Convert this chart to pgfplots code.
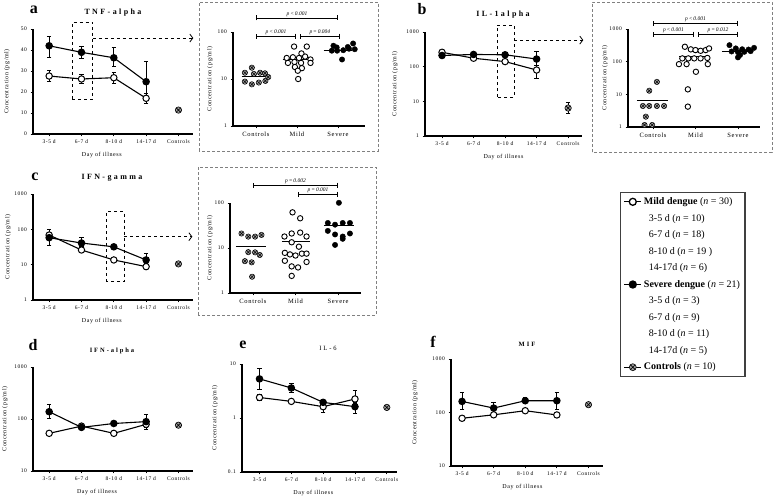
\documentclass[border=0pt]{standalone}
\usepackage{fontspec}
\setmainfont{Liberation Serif}
\newfontfamily\lsfont[LetterSpace=10]{Liberation Serif}
\newfontfamily\tlfont[LetterSpace=30]{Liberation Serif}
\usepackage{pgfplots}
\pgfplotsset{compat=1.18}
\usetikzlibrary{arrows.meta}
\tikzset{
 br/.style={{Bar[width=5pt]}-{Bar[width=5pt]}, line width=0.8pt},
 pv/.style={above, inner sep=1pt, font=\itshape\fontsize{5.5}{6}\selectfont},
 dbox/.style={dashed, line width=0.8pt},
 darr/.style={dashed, line width=0.8pt, -{Straight Barb[length=3pt,width=8pt]}},
}
\pgfplotsset{
 myprism/.style={scale only axis, axis x line*=bottom, axis y line*=left,
   axis line style={line width=1.1pt}, tick align=outside, major tick length=2.5pt,
   every tick/.style={black, line width=0.8pt}, clip=false,
   /pgf/number format/assume math mode=true, /pgf/number format/1000 sep={},
   tick label style={font=\lsfont\fontsize{5.5}{6}\selectfont},
   label style={font=\lsfont\fontsize{6}{7}\selectfont},
   yminorticks=false, xminorticks=false},
 mymain/.style={myprism, xmin=-0.5, xmax=4.45, xtick={0,...,4},
   xticklabels={3-5 d,6-7 d,8-10 d,14-17 d,Controls},
   xlabel={Day of illness}, ylabel={Concentration (pg/ml)}, width=160pt},
 myinset/.style={myprism, xtick={0,1,2}, xticklabels={Controls,Mild,Severe},
   ylabel={Concentration (pg/ml)},
   x tick label style={font=\lsfont\fontsize{6.5}{7}\selectfont}},
 yl/.style={ylabel style={at={(axis description cs:#1,0.5)}, anchor=center}},
 xl/.style={xlabel style={at={(axis description cs:#1,0)}, anchor=center, yshift=-21pt}},
 mysev/.style={black, line width=1.1pt, mark=*, mark size=3.2pt,
   error bars/y dir=both, error bars/y explicit,
   error bars/error bar style={line width=0.9pt, solid},
   error bars/error mark options={rotate=90, mark size=2.2pt, line width=0.9pt}},
 mymild/.style={mysev, mark options={fill=white, line width=1pt}},
 myctrl/.style={mysev, only marks, mark=otimes*, mark options={fill=gray!75, line width=0.6pt}},
 myisev/.style={only marks, mark=*, mark size=2.7pt, black},
 myimild/.style={only marks, mark=*, mark size=2.7pt, black, mark options={fill=white, line width=0.9pt}},
 myictrl/.style={only marks, mark=otimes*, mark size=2.7pt, black, mark options={fill=gray!75, line width=0.5pt}},
 mymean/.style={black, line width=0.8pt},
}
\begin{document}
\begin{tikzpicture}[x=1pt,y=1pt]
\path[use as bounding box] (0pt,0pt) rectangle (777pt,496pt);

% ---------------- Panel a main
\begin{axis}[mymain, at={(33pt,362pt)}, anchor=south west, height=105pt,
  ymin=0, ymax=50, ytick={0,10,...,50}, yl=-0.1625, xl=0.43]
\addplot[mymild] table[x=x,y=y,y error plus=ep,y error minus=em]{
x y ep em
0 27.6 2.5 2.7
1 26.2 2.2 2.1
2 26.8 2.5 2.5
3 17.0 2.4 2.4
};
\addplot[mysev] table[x=x,y=y,y error plus=ep,y error minus=em]{
x y ep em
0 42.0 4.3 5.5
1 38.9 3.0 2.9
2 36.3 4.8 4.3
3 24.9 9.5 8.9
};
\addplot[myctrl] table[x=x,y=y,y error plus=ep,y error minus=em]{
x y ep em
4 11.4 0.5 0.5
};
\draw[dbox] (axis cs:0.72,16.7) rectangle (axis cs:1.35,53.3);
\draw[darr] (axis cs:1.35,45.7) -- (axis cs:4.46,45.7);
\end{axis}

% ---------------- Panel a inset
\begin{axis}[myinset, ymode=log, log ticks with fixed point, at={(233pt,370pt)}, anchor=south west, width=132pt, height=94pt,
  xmin=-0.56, xmax=2.66, ymin=1, ymax=100, ytick={1,10,100}, yl=-0.174]
\addplot[myictrl] coordinates {(-0.1,17.4) (-0.27,13.6) (-0.05,12.8) (0.1,13.6) (0.22,13.2) (0.3,11) (-0.27,8.8) (-0.1,7.7) (0.07,8.4) (0.23,9.1)};
\addplot[myimild] coordinates {(0.93,49) (1.24,49) (1.11,35) (0.75,28) (0.9,29) (1.05,28) (1.2,30) (1.33,26) (0.78,22) (0.94,23) (1.1,22) (1.33,22) (0.95,18) (1.12,17) (1.02,15) (1.03,10)};
\addplot[myisev] coordinates {(1.89,51) (2.37,57) (2.27,44) (1.85,40) (1.98,40) (2.13,41) (2.41,43) (2.1,26) (2.24,48) (1.97,47)};
\addplot[mymean] coordinates {(-0.35,11.6) (0.35,11.6)};
\addplot[mymean] coordinates {(0.65,26.7) (1.35,26.7)};
\addplot[mymean] coordinates {(1.65,41) (2.35,41)};
\draw[br] (axis cs:0,199) -- (axis cs:2,199);
\node[pv] at (axis cs:1,199) {p\,<\,0.001};
\draw[br] (axis cs:0,82) -- (axis cs:0.97,82);
\node[pv] at (axis cs:0.49,82) {p\,<\,0.001};
\draw[br] (axis cs:1.07,82) -- (axis cs:2.05,82);
\node[pv] at (axis cs:1.56,82) {p\,=\,0.004};
\end{axis}

% ---------------- Panel b main
\begin{axis}[mymain, ymode=log, log ticks with fixed point, at={(425pt,360pt)}, anchor=south west, width=157pt, height=104pt,
  xmin=-0.54, xmax=4.44, ymin=1, ymax=1000, ytick={1,10,100,1000}, yl=-0.191, xl=0.5]
\addplot[mymild] table[x=x,y=y,y error plus=ep,y error minus=em]{
x y ep em
0 260 40 40
1 175 20 20
2 140 20 20
3 80 30 33
};
\addplot[mysev] table[x=x,y=y,y error plus=ep,y error minus=em]{
x y ep em
0 210 30 30
1 225 30 30
2 220 25 25
3 166 114 60
};
\addplot[myctrl] table[x=x,y=y,y error plus=ep,y error minus=em]{
x y ep em
4 6.4 2.6 1.8
};
\draw[dbox] (axis cs:1.75,13.3) rectangle (axis cs:2.29,1585);
\draw[darr] (axis cs:2.29,584) -- (axis cs:4.48,584);
\end{axis}

% ---------------- Panel b inset
\begin{axis}[myinset, ymode=log, log ticks with fixed point, at={(628pt,369pt)}, anchor=south west, width=132pt, height=98pt,
  xmin=-0.59, xmax=2.52, ymin=1, ymax=1000, ytick={1,10,100,1000}, yl=-0.174]
\addplot[myictrl] coordinates {(0.09,24) (-0.09,12.9) (-0.24,4.4) (-0.09,4.4) (0.09,4.4) (0.26,4.4) (-0.17,2.07) (-0.2,1.15) (-0.02,1.15)};
\addplot[myimild] coordinates {(0.75,286) (0.89,238) (1.0,226) (1.12,215) (1.24,226) (1.32,254) (0.69,126) (0.83,126) (0.97,126) (1.12,126) (1.28,130) (0.61,84) (0.79,84) (1.29,84) (1.01,49) (0.82,14.2) (0.82,4.2)};
\addplot[myisev] coordinates {(1.8,320) (1.95,255) (2.1,240) (2.25,235) (2.38,265) (1.85,205) (2.0,195) (2.15,200) (2.3,210) (2.05,160) (2.0,135)};
\addplot[mymean] coordinates {(-0.38,6.7) (0.35,6.7)};
\addplot[mymean] coordinates {(0.62,141) (1.35,141)};
\addplot[mymean] coordinates {(1.62,201) (2.36,201)};
\draw[br] (axis cs:0,1513) -- (axis cs:2,1513);
\node[pv] at (axis cs:1,1513) {p\,<\,0.001};
\draw[br] (axis cs:0,698) -- (axis cs:0.95,698);
\node[pv] at (axis cs:0.48,698) {p\,<\,0.001};
\draw[br] (axis cs:1.05,698) -- (axis cs:2,698);
\node[pv] at (axis cs:1.53,698) {p\,=\,0.012};
\end{axis}

% ---------------- Panel c main
\begin{axis}[mymain, ymode=log, log ticks with fixed point, at={(33pt,196pt)}, anchor=south west, height=106pt,
  ymin=1, ymax=1000, ytick={1,10,100,1000}, yl=-0.156, xl=0.43]
\addplot[mymild] table[x=x,y=y,y error plus=ep,y error minus=em]{
x y ep em
0 69 10 10
1 26 4 4
2 13.6 2 2
3 8.8 1.5 1.5
};
\addplot[mysev] table[x=x,y=y,y error plus=ep,y error minus=em]{
x y ep em
0 58 42 23
1 41 17 8
2 32 4 4
3 13.6 7 3
};
\addplot[myctrl] table[x=x,y=y,y error plus=ep,y error minus=em]{
x y ep em
4 10.5 1 1
};
\draw[dbox] (axis cs:1.76,3.3) rectangle (axis cs:2.32,316);
\draw[darr] (axis cs:2.32,62) -- (axis cs:4.43,62);
\end{axis}

% ---------------- Panel c inset
\begin{axis}[myinset, ymode=log, log ticks with fixed point, at={(230pt,203pt)}, anchor=south west, width=131pt, height=90pt,
  xmin=-0.54, xmax=2.54, ymin=1, ymax=100, ytick={1,10,100}, yl=-0.153]
\addplot[myictrl] coordinates {(-0.27,21) (-0.11,17.9) (0.05,17.9) (0.2,19.5) (-0.11,8.1) (0.05,8) (0.16,7) (-0.19,5.1) (-0.03,4.8) (-0.02,2.3)};
\addplot[myimild] coordinates {(0.93,62) (1.11,45.7) (0.74,18) (0.91,21) (1.11,22) (1.26,18) (0.91,13.4) (1.08,10.7) (0.75,7.8) (0.87,7.2) (1.0,6.8) (1.15,7.5) (1.26,7.5) (0.75,5.2) (1.26,4.9) (0.91,3.9) (1.06,3.7) (0.91,2.4)};
\addplot[myisev] coordinates {(2.02,101) (1.76,36) (1.93,33) (2.11,36) (2.28,36) (1.76,24) (1.93,20) (2.11,18) (2.28,21) (2.11,16) (1.93,11.7)};
\addplot[mymean] coordinates {(-0.4,11) (0.3,11)};
\addplot[mymean] coordinates {(0.68,13.8) (1.34,13.8)};
\addplot[mymean] coordinates {(1.67,32.4) (2.38,32.4)};
\draw[br] (axis cs:0,251) -- (axis cs:2,251);
\node[pv] at (axis cs:1,251) {p\,=\,0.002};
\draw[br] (axis cs:1.05,158) -- (axis cs:2,158);
\node[pv] at (axis cs:1.53,158) {p\,=\,0.001};
\end{axis}

% ---------------- Panel d
\begin{axis}[mymain, ymode=log, log ticks with fixed point, at={(33pt,25pt)}, anchor=south west, height=104pt,
  ymin=10, ymax=1000, ytick={10,100,1000}, yl=-0.175, xl=0.4]
\addplot[mymild] table[x=x,y=y,y error plus=ep,y error minus=em]{
x y ep em
0 53 4 4
1 73 5 5
2 53 4 4
3 79 10 10
};
\addplot[mysev] table[x=x,y=y,y error plus=ep,y error minus=em]{
x y ep em
0 138 56 35
1 69 6 6
2 82 6 6
3 89 34 25
};
\addplot[myctrl] table[x=x,y=y,y error plus=ep,y error minus=em]{
x y ep em
4 76 4 4
};
\end{axis}

% ---------------- Panel e
\begin{axis}[mymain, ymode=log, log ticks with fixed point, at={(242pt,24pt)}, anchor=south west, width=155pt, height=108pt,
  xmin=-0.55, xmax=4.32, ymin=0.1, ymax=10, ytick={0.1,1,10}, yl=-0.174, xl=0.46]
\addplot[mymild] table[x=x,y=y,y error plus=ep,y error minus=em]{
x y ep em
0 2.4 0.3 0.3
1 2.03 0.2 0.2
2 1.62 0.3 0.35
3 2.25 1.05 0.35
};
\addplot[mysev] table[x=x,y=y,y error plus=ep,y error minus=em]{
x y ep em
0 5.3 2.8 1.85
1 3.6 0.8 0.6
2 1.95 0.25 0.25
3 1.62 0.33 0.43
};
\addplot[myctrl] table[x=x,y=y,y error plus=ep,y error minus=em]{
x y ep em
4 1.57 0.05 0.05
};
\end{axis}

% ---------------- Panel f
\begin{axis}[mymain, ymode=log, log ticks with fixed point, at={(451pt,30pt)}, anchor=south west, width=152pt, height=107pt,
  xmin=-0.35, xmax=4.46, ymin=10, ymax=1000, ytick={10,100,1000}, yl=-0.237, xl=0.47]
\addplot[mymild] table[x=x,y=y,y error plus=ep,y error minus=em]{
x y ep em
0 78 5 5
1 90.5 5 5
2 108 6 6
3 90 6 6
};
\addplot[mysev] table[x=x,y=y,y error plus=ep,y error minus=em]{
x y ep em
0 161 76 49
1 121 33 24
2 166 28 20
3 166 71 54
};
\addplot[myctrl] table[x=x,y=y,y error plus=ep,y error minus=em]{
x y ep em
4 140 5 5
};
\end{axis}

% ---------------- Legend
\begin{axis}[hide axis, scale only axis, at={(620pt,119pt)}, anchor=south west,
  width=156pt, height=185pt, xmin=0, xmax=1, ymin=0, ymax=1,
  legend style={at={(0,1)}, anchor=north west, draw=black!75, line width=1.2pt,
    font=\fontsize{10}{11}\selectfont, row sep=4.1pt, inner sep=3pt,
    legend cell align=left, /tikz/every even column/.append style={column sep=2pt}},
  legend image post style={line width=1.3pt}]
\addlegendimage{black, mark=*, mark size=3.5pt, mark options={fill=white}}
\addlegendentry{\textbf{Mild dengue} (\textit{n} = 30)}
\addlegendimage{empty legend}\addlegendentry{\hspace{5pt}3-5 d (\textit{n} = 10)}
\addlegendimage{empty legend}\addlegendentry{\hspace{5pt}6-7 d (\textit{n} = 18)}
\addlegendimage{empty legend}\addlegendentry{\hspace{5pt}8-10 d (\textit{n} = 19 )}
\addlegendimage{empty legend}\addlegendentry{\hspace{5pt}14-17d (\textit{n} = 6)}
\addlegendimage{black, mark=*, mark size=3.5pt}
\addlegendentry{\textbf{Severe dengue} (\textit{n} = 21)}
\addlegendimage{empty legend}\addlegendentry{\hspace{5pt}3-5 d (\textit{n} = 3)}
\addlegendimage{empty legend}\addlegendentry{\hspace{5pt}6-7 d (\textit{n} = 9)}
\addlegendimage{empty legend}\addlegendentry{\hspace{5pt}8-10 d (\textit{n} = 11)}
\addlegendimage{empty legend}\addlegendentry{\hspace{5pt}14-17d (\textit{n} = 5)}
\addlegendimage{black, mark=otimes*, mark size=3.5pt, mark options={fill=gray!75, line width=0.6pt}}
\addlegendentry{\textbf{Controls} (\textit{n} = 10)}
\end{axis}

% ---------------- Inset frames
\draw[gray, densely dashed, line width=0.9pt] (199pt,345pt) rectangle (378pt,494pt);
\draw[gray, densely dashed, line width=0.9pt] (592pt,344pt) rectangle (772pt,494pt);
\draw[gray, densely dashed, line width=0.9pt] (198pt,181pt) rectangle (376pt,329pt);

% ---------------- Panel letters and titles
\node[font=\bfseries\fontsize{16}{16}\selectfont] at (34pt,486pt) {a};
\node[font=\bfseries\fontsize{16}{16}\selectfont] at (422pt,487pt) {b};
\node[font=\bfseries\fontsize{16}{16}\selectfont] at (35pt,319pt) {c};
\node[font=\bfseries\fontsize{16}{16}\selectfont] at (33pt,151pt) {d};
\node[font=\bfseries\fontsize{16}{16}\selectfont] at (243pt,151pt) {e};
\node[font=\bfseries\fontsize{16}{16}\selectfont] at (433pt,154pt) {f};
\node[font=\tlfont\bfseries\fontsize{8}{9}\selectfont] at (113pt,483pt) {TNF-alpha};
\node[font=\tlfont\bfseries\fontsize{8}{9}\selectfont] at (503pt,481pt) {IL-1alpha};
\node[font=\tlfont\bfseries\fontsize{8}{9}\selectfont] at (112pt,318pt) {IFN-gamma};
\node[font=\tlfont\bfseries\fontsize{6.5}{7}\selectfont] at (112pt,145pt) {IFN-alpha};
\node[font=\tlfont\fontsize{6.5}{7}\selectfont] at (328pt,148pt) {IL-6};
\node[font=\tlfont\bfseries\fontsize{6.5}{7}\selectfont] at (527pt,152pt) {MIF};
\end{tikzpicture}
\end{document}
